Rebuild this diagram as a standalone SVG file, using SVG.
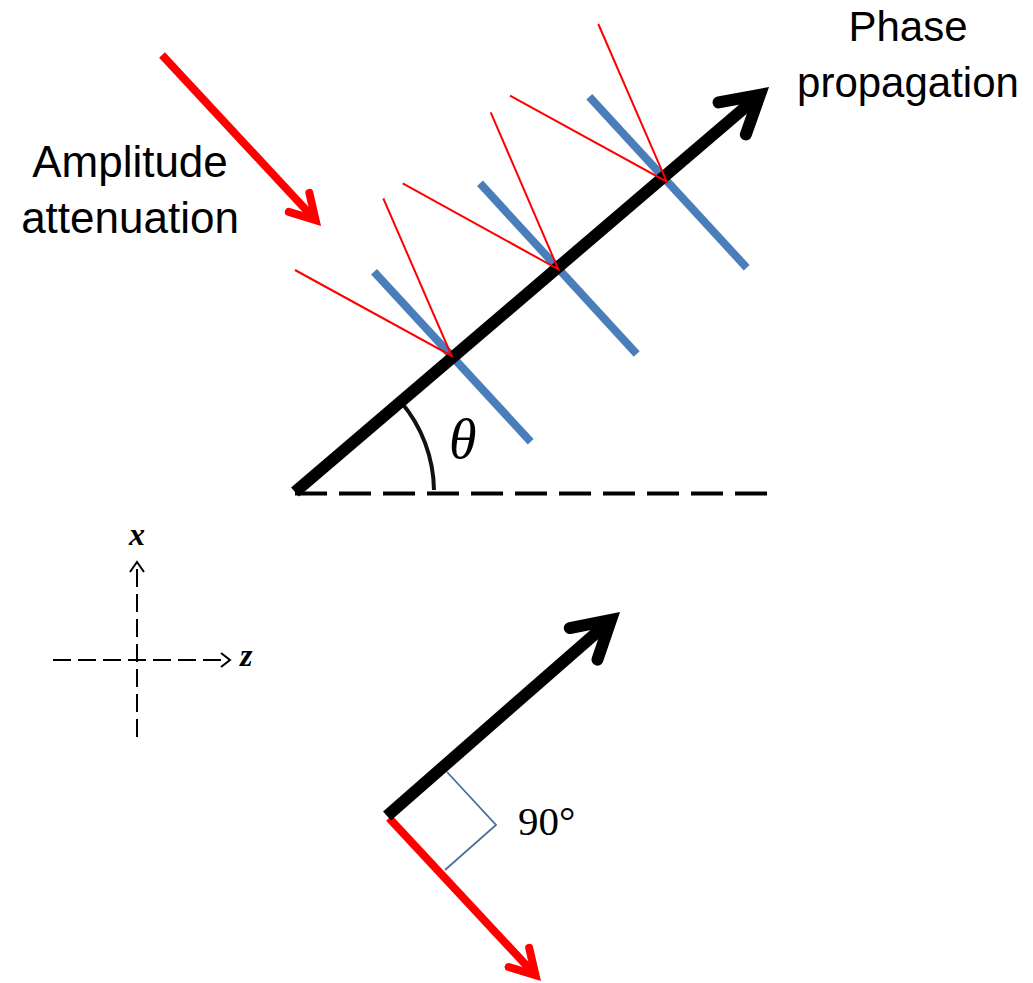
<svg xmlns="http://www.w3.org/2000/svg" xmlns:xlink="http://www.w3.org/1999/xlink" width="1033" height="983" viewBox="0 0 1033 983">
<style>
.lbl{font-family:"Liberation Sans",Arial,sans-serif;font-size:44px;fill:#000;text-anchor:middle}
.math{font-family:"Liberation Serif","Times New Roman",serif;fill:#000}
.blk{stroke:#000;fill:none}
.red{stroke:#ff0000;fill:none}
.blue{stroke:#4a7ebb;stroke-width:8;fill:none}
.thin{stroke:#ff0000;stroke-width:2;fill:none}
.axis{stroke:#000;stroke-width:2;fill:none;stroke-dasharray:18 7}
</style>
<defs>
<path id="ah" d="M-36.4,-21 L0,0 L-36.4,21" fill="none" stroke-width="12" stroke-linejoin="miter" stroke-linecap="round"/>
</defs>
<rect width="1033" height="983" fill="#fff"/>

<g id="connectors">
  <line x1="295" y1="493.5" x2="767" y2="493.5" stroke="#000" stroke-width="4" stroke-dasharray="32 12"/>
  <path d="M434,490 A139,139 0 0 0 401,402" stroke="#111" stroke-width="4" fill="none"/>
  <line class="blue" x1="374" y1="271.7" x2="530.7" y2="441.7"/>
  <line class="blue" x1="480" y1="183.3" x2="636.7" y2="354"/>
  <line class="blue" x1="589.3" y1="96.7" x2="746.7" y2="267.7"/>
  <line class="blk" x1="295" y1="492" x2="759.9" y2="94.8" stroke-width="12"/>
  <use xlink:href="#ah" class="blk" transform="translate(759.9,94.8) rotate(-40.5)"/>
  <polyline class="thin" points="295,270 451.7,356 383.3,198.3"/>
  <polyline class="thin" points="402.7,183.3 558.3,269.3 490.7,112.3"/>
  <polyline class="thin" points="510,95.7 666.7,181.7 598.3,24"/>
  <line class="red" x1="162" y1="55" x2="315.6" y2="220.1" stroke-width="8"/>
  <use xlink:href="#ah" class="red" transform="translate(315.6,220.1) rotate(47.1) scale(0.667)"/>
  <line class="axis" x1="137" y1="737" x2="137" y2="562"/>
  <line class="axis" x1="53" y1="660" x2="230" y2="660"/>
  <polyline points="130,572 137,562 144,572" stroke="#000" stroke-width="2" fill="none"/>
  <polyline points="221,653 230,660 221,667" stroke="#000" stroke-width="2" fill="none"/>
  <line class="red" x1="389" y1="818" x2="535.5" y2="975.2" stroke-width="8"/>
  <use xlink:href="#ah" class="red" transform="translate(535.5,975.2) rotate(47) scale(0.667)"/>
  <line class="blk" x1="387" y1="816" x2="611" y2="619.9" stroke-width="12"/>
  <use xlink:href="#ah" class="blk" transform="translate(611,619.9) rotate(-41.2)"/>
  <polyline points="447,772 496,825 445,870" stroke="#4a6f9c" stroke-width="1.8" fill="none"/>
</g>

<g id="label-amplitude">
  <text class="lbl" x="130" y="177">Amplitude</text>
  <text class="lbl" x="130" y="233">attenuation</text>
</g>
<g id="label-phase">
  <text class="lbl" x="908" y="41" font-size="42" style="font-size:42px">Phase</text>
  <text class="lbl" x="908" y="97" style="font-size:42px">propagation</text>
</g>
<g id="label-theta">
  <text class="math" x="449" y="458" font-size="56" font-style="italic">θ</text>
</g>
<g id="label-x">
  <text class="math" x="137" y="545" font-size="32" font-style="italic" font-weight="bold" text-anchor="middle">x</text>
</g>
<g id="label-z">
  <text class="math" x="240" y="666" font-size="32" font-style="italic" font-weight="bold">z</text>
</g>
<g id="label-90">
  <text class="math" x="518" y="835" font-size="41">90°</text>
</g>
</svg>
